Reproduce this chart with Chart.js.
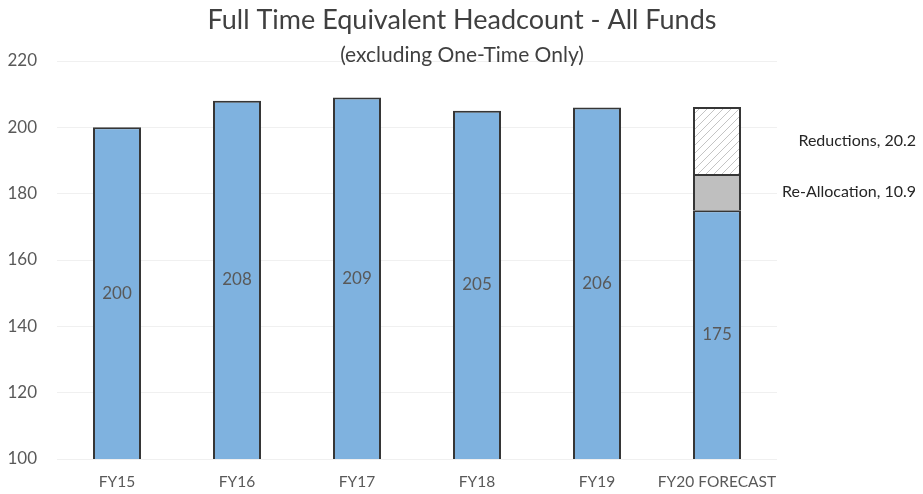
<!DOCTYPE html>
<html><head><meta charset="utf-8">
<script src="https://cdn.jsdelivr.net/npm/chart.js@4"></script>
<style>html,body{margin:0;padding:0;background:#fff;}#wrap{width:923px;height:494px;position:relative;}</style>
</head><body><div id="wrap"><canvas id="c" width="923" height="494"></canvas></div>
<script>
const categories = ['FY15','FY16','FY17','FY18','FY19','FY20 FORECAST'];
const fteValues = [200, 208, 209, 205, 206, 175];
const reallocValues = [null, null, null, null, null, 10.9];
const reductionValues = [null, null, null, null, null, 20.2];
const seriesNames = ['FTE', 'Re-Allocation', 'Reductions'];
const yTicks = [100, 120, 140, 160, 180, 200, 220];
const titleText = 'Full Time Equivalent Headcount - All Funds';
const subtitleText = '(excluding One-Time Only)';

const FONT = 'Lato, "Open Sans", sans-serif';

function hatch() {
  const p = document.createElement('canvas');
  p.width = 8; p.height = 8;
  const g = p.getContext('2d');
  g.fillStyle = '#ffffff'; g.fillRect(0,0,8,8);
  g.strokeStyle = '#c4c4c4'; g.lineWidth = 1;
  g.beginPath();
  g.moveTo(0,8); g.lineTo(8,0);
  g.moveTo(-4,4); g.lineTo(4,-4);
  g.moveTo(4,12); g.lineTo(12,4);
  g.stroke();
  return g.createPattern(p,'repeat');
}

const labelPlugin = {
  id: 'labels',
  afterDatasetsDraw(chart) {
    const ctx = chart.ctx;
    const y = chart.scales.y;
    ctx.save();
    ctx.font = '17px ' + FONT;
    ctx.fillStyle = '#595959';
    ctx.textAlign = 'center';
    ctx.textBaseline = 'middle';
    const meta0 = chart.getDatasetMeta(0);
    meta0.data.forEach((bar, i) => {
      const v = fteValues[i];
      ctx.fillText(String(v), bar.x, y.getPixelForValue((y.min + v) / 2));
    });
    ctx.font = '16px ' + FONT;
    ctx.fillStyle = '#262626';
    ctx.textAlign = 'right';
    const last = categories.length - 1;
    const base = fteValues[last];
    const r = reallocValues[last];
    const d = reductionValues[last];
    ctx.fillText(seriesNames[1] + ', ' + r, 916, y.getPixelForValue(base + r / 2));
    ctx.fillText(seriesNames[2] + ', ' + d, 916, y.getPixelForValue(base + r + d / 2));
    ctx.restore();
  },
  afterDraw(chart) {
    const ctx = chart.ctx;
    ctx.save();
    ctx.textAlign = 'center';
    ctx.textBaseline = 'middle';
    ctx.fillStyle = '#404040';
    ctx.font = '27px ' + FONT;
    ctx.fillText(titleText, 462, 20);
    ctx.font = '21px ' + FONT;
    ctx.fillStyle = '#404040';
    ctx.fillText(subtitleText, 462, 55);
    ctx.restore();
  }
};

const border = '#363636';
new Chart(document.getElementById('c'), {
  type: 'bar',
  data: {
    labels: categories,
    datasets: [
      { label: seriesNames[0], data: fteValues, backgroundColor: '#7fb2df', borderColor: border, borderWidth: 2, barPercentage: 0.8, categoryPercentage: 0.5 },
      { label: seriesNames[1], data: reallocValues, backgroundColor: '#bfbfbf', borderColor: border, borderWidth: 2, barPercentage: 0.8, categoryPercentage: 0.5 },
      { label: seriesNames[2], data: reductionValues, backgroundColor: hatch(), borderColor: border, borderWidth: 2, barPercentage: 0.8, categoryPercentage: 0.5 }
    ]
  },
  options: {
    responsive: false,
    animation: false,
    layout: { padding: { top: 61, right: 146, left: 0, bottom: 0 } },
    plugins: { legend: { display: false }, tooltip: { enabled: false }, title: { display: false } },
    scales: {
      x: {
        stacked: true,
        grid: { display: false, drawTicks: false },
        border: { display: false },
        ticks: { color: '#595959', font: { family: FONT, size: 15.5 }, padding: 14, maxRotation: 0, minRotation: 0, autoSkip: false },
        afterFit(s) { s.height = 35; }
      },
      y: {
        stacked: true,
        min: 100, max: 220,
        afterBuildTicks(s) { s.ticks = yTicks.map(v => ({ value: v })); },
        grid: { color: '#f0f0f0', drawTicks: false },
        border: { display: false },
        ticks: { color: '#595959', font: { family: FONT, size: 17 }, padding: 20 },
        afterFit(s) { s.width = 57; }
      }
    }
  },
  plugins: [labelPlugin]
});
</script></body></html>
